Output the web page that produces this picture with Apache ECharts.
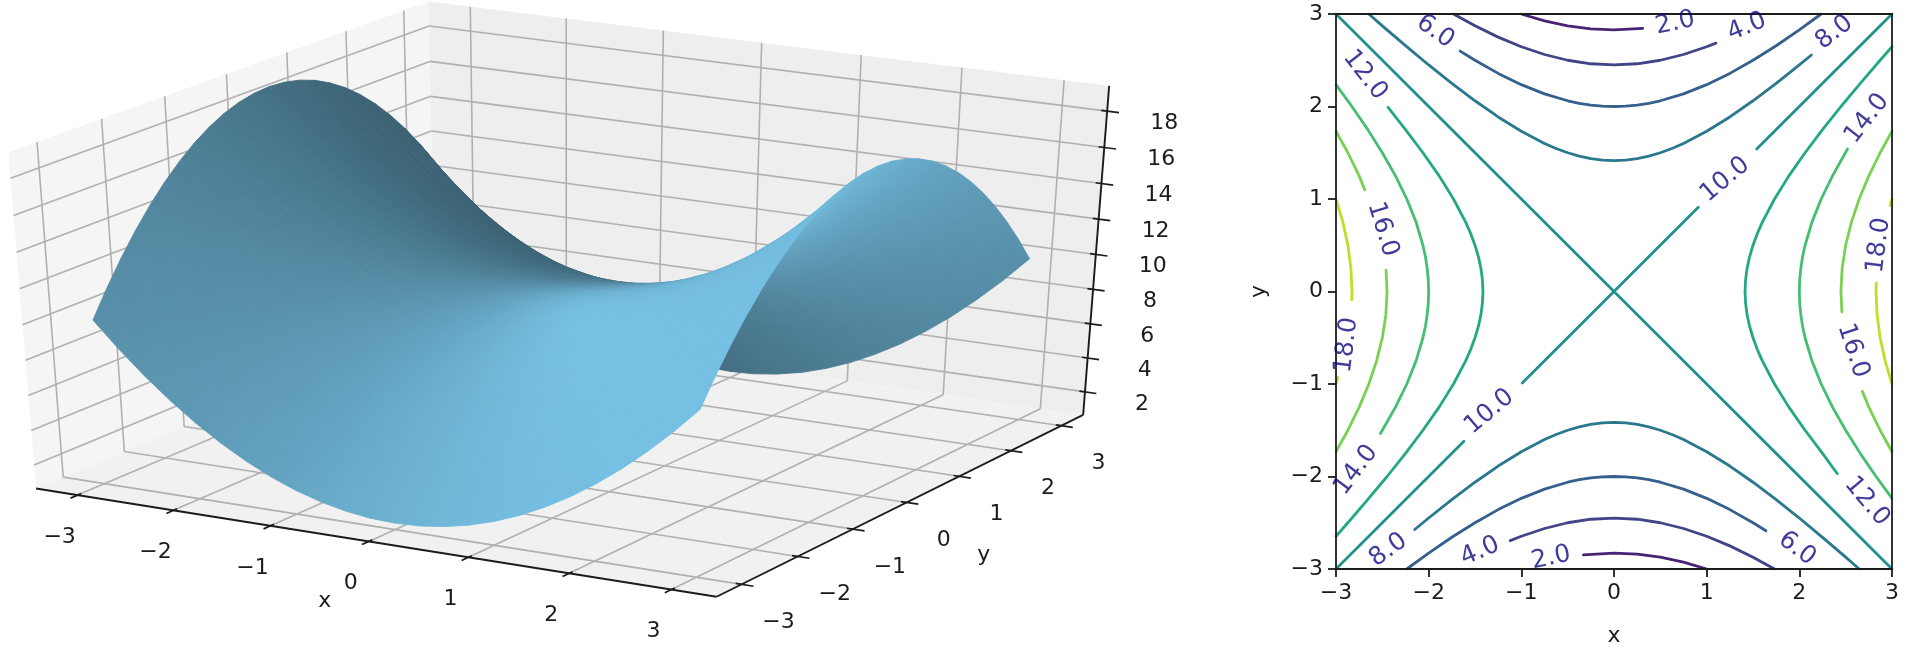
<!DOCTYPE html>
<html><head><meta charset="utf-8">
<style>html,body{margin:0;padding:0;background:#fff}#c{width:1920px;height:648px;filter:blur(0.55px)}</style>
<script src="https://cdn.jsdelivr.net/npm/echarts@6/dist/echarts.min.js"></script>
</head><body><div id="c"></div>
<script>
// ---------- 3D surface: heights read on a quarter-unit mesh ----------
const meshX=[-3,-2.75,-2.5,-2.25,-2,-1.75,-1.5,-1.25,-1,-0.75,-0.5,-0.25,0,0.25,0.5,0.75,1,1.25,1.5,1.75,2,2.25,2.5,2.75,3];
const meshY=meshX.slice();
const zRowsOuter=[
[10,8.56,7.25,6.06,5,4.06,3.25,2.56,2,1.56,1.25,1.06,1,1.06,1.25,1.56,2,2.56,3.25,4.06,5,6.06,7.25,8.56,10],
[11.44,10,8.69,7.5,6.44,5.5,4.69,4,3.44,3,2.69,2.5,2.44,2.5,2.69,3,3.44,4,4.69,5.5,6.44,7.5,8.69,10,11.44],
[12.75,11.31,10,8.81,7.75,6.81,6,5.31,4.75,4.31,4,3.81,3.75,3.81,4,4.31,4.75,5.31,6,6.81,7.75,8.81,10,11.31,12.75],
[13.94,12.5,11.19,10,8.94,8,7.19,6.5,5.94,5.5,5.19,5,4.94,5,5.19,5.5,5.94,6.5,7.19,8,8.94,10,11.19,12.5,13.94],
[15,13.56,12.25,11.06,10,9.06,8.25,7.56,7,6.56,6.25,6.06,6,6.06,6.25,6.56,7,7.56,8.25,9.06,10,11.06,12.25,13.56,15],
[15.94,14.5,13.19,12,10.94,10,9.19,8.5,7.94,7.5,7.19,7,6.94,7,7.19,7.5,7.94,8.5,9.19,10,10.94,12,13.19,14.5,15.94],
[16.75,15.31,14,12.81,11.75,10.81,10,9.31,8.75,8.31,8,7.81,7.75,7.81,8,8.31,8.75,9.31,10,10.81,11.75,12.81,14,15.31,16.75],
[17.44,16,14.69,13.5,12.44,11.5,10.69,10,9.44,9,8.69,8.5,8.44,8.5,8.69,9,9.44,10,10.69,11.5,12.44,13.5,14.69,16,17.44],
[18,16.56,15.25,14.06,13,12.06,11.25,10.56,10,9.56,9.25,9.06,9,9.06,9.25,9.56,10,10.56,11.25,12.06,13,14.06,15.25,16.56,18],
[18.44,17,15.69,14.5,13.44,12.5,11.69,11,10.44,10,9.69,9.5,9.44,9.5,9.69,10,10.44,11,11.69,12.5,13.44,14.5,15.69,17,18.44],
[18.75,17.31,16,14.81,13.75,12.81,12,11.31,10.75,10.31,10,9.81,9.75,9.81,10,10.31,10.75,11.31,12,12.81,13.75,14.81,16,17.31,18.75],
[18.94,17.5,16.19,15,13.94,13,12.19,11.5,10.94,10.5,10.19,10,9.94,10,10.19,10.5,10.94,11.5,12.19,13,13.94,15,16.19,17.5,18.94]];
const zRowCentre=[19,17.56,16.25,15.06,14,13.06,12.25,11.56,11,10.56,10.25,10.06,10,10.06,10.25,10.56,11,11.56,12.25,13.06,14,15.06,16.25,17.56,19];
const zTable=[...zRowsOuter,zRowCentre,...zRowsOuter.slice().reverse()]; // row = y, column = x

const xTicks=[-3,-2,-1,0,1,2,3], yTicks=[-3,-2,-1,0,1,2,3], zTicks=[2,4,6,8,10,12,14,16,18];
const axisX='x', axisY='y';

// ---------- contour segments: [x,y] ----------
const contourLevels=[2,4,6,8,10,12,14,16,18];
const contourColors=['#482475','#414487','#355f8d','#2a788e','#21918c','#22a884','#44bf70','#7ad151','#bddf26'];
const contourSegments={
2:[[[-1,3],[-0.75,2.926],[-0.5,2.872],[-0.25,2.839],[0,2.828],[0.31,2.845]],
   [[-0.33,-2.847],[0,-2.828],[0.25,-2.839],[0.5,-2.872],[0.75,-2.926],[1,-3]]],
4:[[[-1.732,3],[-1.5,2.872],[-1.25,2.75],[-1,2.646],[-0.75,2.562],[-0.5,2.5],[-0.25,2.462],[0,2.449],[0.25,2.462],[0.5,2.5],[0.75,2.562],[1,2.646],[1.1,2.685]],
   [[-1.12,-2.693],[-1,-2.646],[-0.75,-2.562],[-0.5,-2.5],[-0.25,-2.462],[0,-2.449],[0.25,-2.462],[0.5,-2.5],[0.75,-2.562],[1,-2.646],[1.25,-2.75],[1.5,-2.872],[1.732,-3]]],
6:[[[-1.66,2.599],[-1.5,2.5],[-1.25,2.358],[-1,2.236],[-0.75,2.136],[-0.5,2.062],[-0.375,2.035],[-0.25,2.016],[-0.125,2.004],[0,2],[0.125,2.004],[0.25,2.016],[0.375,2.035],[0.5,2.062],[0.75,2.136],[1,2.236],[1.25,2.358],[1.5,2.5],[1.75,2.657],[2,2.828],[2.236,3]],
   [[-2.236,-3],[-2,-2.828],[-1.75,-2.657],[-1.5,-2.5],[-1.25,-2.358],[-1,-2.236],[-0.75,-2.136],[-0.5,-2.062],[-0.375,-2.035],[-0.25,-2.016],[-0.125,-2.004],[0,-2],[0.125,-2.004],[0.25,-2.016],[0.375,-2.035],[0.5,-2.062],[0.75,-2.136],[1,-2.236],[1.25,-2.358],[1.5,-2.5],[1.64,-2.586]]],
8:[[[-2.646,3],[-2.5,2.872],[-2.25,2.658],[-2,2.449],[-1.75,2.25],[-1.5,2.062],[-1.25,1.887],[-1,1.732],[-0.75,1.601],[-0.625,1.546],[-0.5,1.5],[-0.375,1.463],[-0.25,1.436],[-0.125,1.42],[0,1.414],[0.125,1.42],[0.25,1.436],[0.375,1.463],[0.5,1.5],[0.625,1.546],[0.75,1.601],[1,1.732],[1.25,1.887],[1.5,2.062],[1.75,2.25],[2,2.449],[2.13,2.557]],
   [[-2.15,-2.573],[-2,-2.449],[-1.75,-2.25],[-1.5,-2.062],[-1.25,-1.887],[-1,-1.732],[-0.75,-1.601],[-0.625,-1.546],[-0.5,-1.5],[-0.375,-1.463],[-0.25,-1.436],[-0.125,-1.42],[0,-1.414],[0.125,-1.42],[0.25,-1.436],[0.375,-1.463],[0.5,-1.5],[0.625,-1.546],[0.75,-1.601],[1,-1.732],[1.25,-1.887],[1.5,-2.062],[1.75,-2.25],[2,-2.449],[2.25,-2.658],[2.5,-2.872],[2.646,-3]]],
10:[[[-3,3],[0,0],[3,-3]],[[-3,-3],[-1.62,-1.62]],[[-0.99,-0.99],[0.91,0.91]],[[1.54,1.54],[3,3]]],
12:[[[-2.44,1.992],[-2.25,1.75],[-2.062,1.5],[-1.887,1.25],[-1.732,1],[-1.601,0.75],[-1.546,0.625],[-1.5,0.5],[-1.463,0.375],[-1.436,0.25],[-1.42,0.125],[-1.414,0],[-1.42,-0.125],[-1.436,-0.25],[-1.463,-0.375],[-1.5,-0.5],[-1.546,-0.625],[-1.601,-0.75],[-1.732,-1],[-1.887,-1.25],[-2.062,-1.5],[-2.25,-1.75],[-2.449,-2],[-2.658,-2.25],[-2.872,-2.5],[-3,-2.646]],
    [[3,2.646],[2.872,2.5],[2.658,2.25],[2.449,2],[2.25,1.75],[2.062,1.5],[1.887,1.25],[1.732,1],[1.601,0.75],[1.546,0.625],[1.5,0.5],[1.463,0.375],[1.436,0.25],[1.42,0.125],[1.414,0],[1.42,-0.125],[1.436,-0.25],[1.463,-0.375],[1.5,-0.5],[1.546,-0.625],[1.601,-0.75],[1.732,-1],[1.887,-1.25],[2.062,-1.5],[2.25,-1.75],[2.41,-1.97]]],
14:[[[-3,2.236],[-2.828,2],[-2.657,1.75],[-2.5,1.5],[-2.358,1.25],[-2.236,1],[-2.136,0.75],[-2.062,0.5],[-2.035,0.375],[-2.016,0.25],[-2.004,0.125],[-2,0],[-2.004,-0.125],[-2.016,-0.25],[-2.035,-0.375],[-2.062,-0.5],[-2.136,-0.75],[-2.236,-1],[-2.358,-1.25],[-2.52,-1.535]],
    [[2.52,1.54],[2.358,1.25],[2.236,1],[2.136,0.75],[2.062,0.5],[2.035,0.375],[2.016,0.25],[2.004,0.125],[2,0],[2.004,-0.125],[2.016,-0.25],[2.035,-0.375],[2.062,-0.5],[2.136,-0.75],[2.236,-1],[2.358,-1.25],[2.5,-1.5],[2.657,-1.75],[2.828,-2],[3,-2.236]]],
16:[[[-3,1.732],[-2.872,1.5],[-2.75,1.25],[-2.69,1.1]],
    [[-2.46,0.23],[-2.449,0],[-2.462,-0.25],[-2.5,-0.5],[-2.562,-0.75],[-2.646,-1],[-2.75,-1.25],[-2.872,-1.5],[-3,-1.732]],
    [[3,1.732],[2.872,1.5],[2.75,1.25],[2.646,1],[2.562,0.75],[2.5,0.5],[2.462,0.25],[2.449,0],[2.459,-0.22]],
    [[2.68,-1.08],[2.75,-1.25],[2.872,-1.5],[3,-1.732]]],
18:[[[-3,1],[-2.926,0.75],[-2.872,0.5],[-2.839,0.25],[-2.828,0],[-2.83,-0.09]],
    [[-3,-1],[-2.98,-0.93]],[[2.98,0.93],[3,1]],
    [[2.83,0.09],[2.828,0],[2.839,-0.25],[2.872,-0.5],[2.926,-0.75],[3,-1]]]
};
// [label text, x, y, rotation in degrees]
const contourLabels=[
['2.0',0.66,2.9,12],['4.0',1.435,2.86,22],['8.0',2.378,2.8,38],['10.0',1.2,1.21,40],['14.0',2.73,1.87,52],['18.0',2.857,0.5,83],
['6.0',-1.93,2.81,-35],['12.0',-2.687,2.34,-52],['16.0',-2.496,0.672,-73],['18.0',-2.885,-0.58,83],['14.0',-2.784,-1.93,53],
['10.0',-1.345,-1.3,40],['8.0',-2.435,-2.795,36],['4.0',-1.445,-2.81,23],['2.0',-0.68,-2.88,12],['6.0',1.975,-2.78,-37],
['12.0',2.73,-2.27,-50],['16.0',2.58,-0.64,-72]];

// ---------- view of the 3D box ----------
const XLIM=3.4375, ZMIN=0.625, ZMAX=19.375;
const SX=7855, SY=3838, OX=567.7, OY=289;
const FONT='"DejaVu Sans"', INK='#1c1c1c', TICKFS=22, LABELFS=25;
const SURF=[118,193,228];
const PANE_L='#f5f5f5', PANE_B='#eeeeee', PANE_F='#f1f1f1', GRID='#b0b0b0';

function proj(x,y,z){
  const a=x/(2*XLIM), b=y/(2*XLIM), c=(z-(ZMIN+ZMAX)/2)/(ZMAX-ZMIN);
  const xv=0.8660254*a+0.5*b, yv=-0.25*a+0.4330127*b+0.8660254*c, d=0.4330127*a-0.75*b+0.5*c, w=10-d;
  return [xv/w,yv/w,w];
}
// ---------- shading from the height table ----------
const nX=meshX.length,nY=meshY.length,h=0.25;
function slope(arr,k){
  const n=arr.length;
  if(k===0) return (-3*arr[0]+4*arr[1]-arr[2])/(2*h);
  if(k===n-1) return (3*arr[n-1]-4*arr[n-2]+arr[n-3])/(2*h);
  return (arr[k+1]-arr[k-1])/(2*h);
}
const rawShade=zTable.map((row,j)=>row.map((_,i)=>{
  const zx=slope(row,i), zy=slope(zTable.map(r=>r[i]),j);
  return (zx*1+zy*1+0.5)/(1.5*Math.hypot(zx,zy,1));
}));
let sMin=Infinity,sMax=-Infinity; rawShade.forEach(r=>r.forEach(v=>{if(v<sMin)sMin=v;if(v>sMax)sMax=v;}));
const factor=s=>0.5+0.5*(s-sMin)/(sMax-sMin);
const col=f=>{f=Math.max(0.3,Math.min(1.05,f));return 'rgb('+SURF.map(c=>Math.min(255,Math.round(c*f))).join(',')+')';};

const facets=[];
for(let j=0;j<nY-1;j++)for(let i=0;i<nX-1;i++){
  const w=(proj(meshX[i],meshY[j],zTable[j][i])[2]+proj(meshX[i+1],meshY[j],zTable[j][i+1])[2]+proj(meshX[i+1],meshY[j+1],zTable[j+1][i+1])[2]+proj(meshX[i],meshY[j+1],zTable[j+1][i])[2])/4;
  facets.push([i,j,w]);
}
facets.sort((p,q)=>q[2]-p[2]);

function renderFacet(params,api){
  const f=facets[params.dataIndex],i=f[0],j=f[1];
  const idx=[[i,j],[i+1,j],[i+1,j+1],[i,j+1]];
  const pts=idx.map(q=>{const p=proj(meshX[q[0]],meshY[q[1]],zTable[q[1]][q[0]]);return api.coord([p[0],p[1]]);});
  const fs=idx.map(q=>factor(rawShade[q[1]][q[0]]));
  const e1=[(pts[1][0]-pts[0][0]+pts[2][0]-pts[3][0])/2,(pts[1][1]-pts[0][1]+pts[2][1]-pts[3][1])/2];
  const e2=[(pts[3][0]-pts[0][0]+pts[2][0]-pts[1][0])/2,(pts[3][1]-pts[0][1]+pts[2][1]-pts[1][1])/2];
  const d1=(fs[1]-fs[0]+fs[2]-fs[3])/2,d2=(fs[3]-fs[0]+fs[2]-fs[1])/2;
  const det=e1[0]*e2[1]-e1[1]*e2[0];
  const mean=(fs[0]+fs[1]+fs[2]+fs[3])/4;
  const cx=(pts[0][0]+pts[1][0]+pts[2][0]+pts[3][0])/4,cy=(pts[0][1]+pts[1][1]+pts[2][1]+pts[3][1])/4;
  let fill=col(mean);
  if(Math.abs(det)>20){
    const gx=(d1*e2[1]-d2*e1[1])/det,gy=(e1[0]*d2-e2[0]*d1)/det,gl=Math.hypot(gx,gy);
    if(gl>1e-6){
      let r=0;pts.forEach(p=>{r=Math.max(r,Math.hypot(p[0]-cx,p[1]-cy));});
      let df=gl*r;
      const mx=Math.max(...fs)-mean,mn=mean-Math.min(...fs),lim=Math.max(mx,mn)*1.2;
      if(df>lim){r*=lim/df;df=lim;}
      const ux=gx/gl,uy=gy/gl;
      fill={type:'linear',global:true,x:cx-ux*r,y:cy-uy*r,x2:cx+ux*r,y2:cy+uy*r,
        colorStops:[{offset:0,color:col(mean-df)},{offset:1,color:col(mean+df)}]};
    }
  }
  return {type:'polygon',shape:{points:pts},style:{fill:fill,stroke:fill,lineWidth:0.9},silent:true};
}

function renderFrame(params,api){
  const P=(x,y,z)=>{const p=proj(x,y,z);return api.coord([p[0],p[1]]);};
  const L=XLIM;
  const ch=[];
  const poly=(pts,fill)=>ch.push({type:'polygon',shape:{points:pts},style:{fill:fill}});
  const line=(a,b,color,w)=>ch.push({type:'line',shape:{x1:a[0],y1:a[1],x2:b[0],y2:b[1]},style:{stroke:color,lineWidth:w}});
  const text=(t,p,dx,dy,size)=>ch.push({type:'text',style:{text:t,x:p[0]+dx,y:p[1]+dy,fill:INK,fontFamily:FONT,fontSize:size||TICKFS,align:'center',verticalAlign:'middle'}});
  const fmt=v=>String(v).replace('-','\u2212');
  poly([P(-L,-L,ZMIN),P(-L,-L,ZMAX),P(-L,L,ZMAX),P(-L,L,ZMIN)],PANE_L);
  poly([P(-L,L,ZMIN),P(-L,L,ZMAX),P(L,L,ZMAX),P(L,L,ZMIN)],PANE_B);
  poly([P(-L,-L,ZMIN),P(L,-L,ZMIN),P(L,L,ZMIN),P(-L,L,ZMIN)],PANE_F);
  xTicks.forEach(v=>{line(P(v,-L,ZMIN),P(v,L,ZMIN),GRID,1.6);line(P(v,L,ZMIN),P(v,L,ZMAX),GRID,1.6);});
  yTicks.forEach(v=>{line(P(-L,v,ZMIN),P(L,v,ZMIN),GRID,1.6);line(P(-L,v,ZMIN),P(-L,v,ZMAX),GRID,1.6);});
  zTicks.forEach(v=>{line(P(-L,-L,v),P(-L,L,v),GRID,1.6);line(P(-L,L,v),P(L,L,v),GRID,1.6);});
  line(P(-L,-L,ZMIN),P(L,-L,ZMIN),INK,1.9);
  line(P(L,-L,ZMIN),P(L,L,ZMIN),INK,1.9);
  line(P(L,L,ZMIN),P(L,L,ZMAX),INK,1.9);
  const inT=0.057,outT=0.115;
  xTicks.forEach(v=>{line(P(v,-L-outT,ZMIN),P(v,-L+inT,ZMIN),INK,1.7);text(fmt(v),P(v,-L,ZMIN),-18,42);});
  yTicks.forEach(v=>{line(P(L-inT,v,ZMIN),P(L+outT,v,ZMIN),INK,1.7);text(fmt(v),P(L,v,ZMIN),37,38);});
  zTicks.forEach(v=>{line(P(L-inT,L,v),P(L+outT,L,v),INK,1.7);text(fmt(v),P(L,L,v),57,12);});
  text(axisX,P(0,-L,ZMIN),-44,60);
  text(axisY,P(L,0,ZMIN),77,53);
  return {type:'group',children:ch,silent:true};
}

const series=[
  {type:'custom',xAxisIndex:0,yAxisIndex:0,data:[[0,0]],renderItem:renderFrame,silent:true,z:1,animation:false},
  {type:'custom',xAxisIndex:0,yAxisIndex:0,data:facets.map(f=>[f[0],f[1]]),renderItem:renderFacet,silent:true,z:2,animation:false,progressive:0}
];
contourLevels.forEach((lv,k)=>{
  contourSegments[lv].forEach(seg=>{
    series.push({type:'line',name:String(lv),xAxisIndex:1,yAxisIndex:1,data:seg,showSymbol:false,symbol:'none',smooth:false,silent:true,animation:false,z:3,
      lineStyle:{color:contourColors[k],width:2.8,cap:'round',join:'round'}});
  });
});
series.push({type:'scatter',xAxisIndex:1,yAxisIndex:1,symbolSize:0,silent:true,animation:false,z:9,clip:false,
  data:contourLabels.map(l=>({value:[l[1],l[2]],label:{show:true,position:'inside',formatter:l[0],rotate:l[3],color:'#0f0a80',fontFamily:FONT,fontSize:LABELFS}}))});

const ticksBase={type:'value',min:-3,max:3,interval:1,splitLine:{show:false},z:5,
  axisLine:{show:true,onZero:false,lineStyle:{color:INK,width:1.8}}};
const labelFmt=v=>String(v).replace('-','\u2212');
const option={
  animation:false,backgroundColor:'#fff',
  grid:[{left:0,top:0,width:1240,height:648,show:false,outerBoundsMode:'none'},{left:1336,top:14,width:556,height:555,show:false,outerBoundsMode:'none'}],
  xAxis:[
    {type:'value',gridIndex:0,show:false,min:(0-OX)/SX,max:(1240-OX)/SX},
    Object.assign({},ticksBase,{gridIndex:1,position:'bottom',name:axisX,nameLocation:'middle',nameGap:56,
      nameTextStyle:{color:INK,fontFamily:FONT,fontSize:TICKFS},
      axisTick:{show:true,length:8,lineStyle:{color:INK,width:1.8}},
      axisLabel:{color:INK,fontFamily:FONT,fontSize:TICKFS,margin:13,formatter:labelFmt}}),
    Object.assign({},ticksBase,{gridIndex:1,position:'top',axisTick:{show:false},axisLabel:{show:false}})
  ],
  yAxis:[
    {type:'value',gridIndex:0,show:false,min:(OY-648)/SY,max:OY/SY},
    Object.assign({},ticksBase,{gridIndex:1,position:'left',name:axisY,nameLocation:'middle',nameGap:66,
      nameTextStyle:{color:INK,fontFamily:FONT,fontSize:TICKFS},
      axisTick:{show:true,length:8,lineStyle:{color:INK,width:1.8}},
      axisLabel:{color:INK,fontFamily:FONT,fontSize:TICKFS,margin:13,formatter:labelFmt}}),
    Object.assign({},ticksBase,{gridIndex:1,position:'right',axisTick:{show:false},axisLabel:{show:false}})
  ],
  series:series
};
const chart=echarts.init(document.getElementById('c'),null,{renderer:'canvas',width:1920,height:648});
chart.setOption(option);
</script></body></html>
